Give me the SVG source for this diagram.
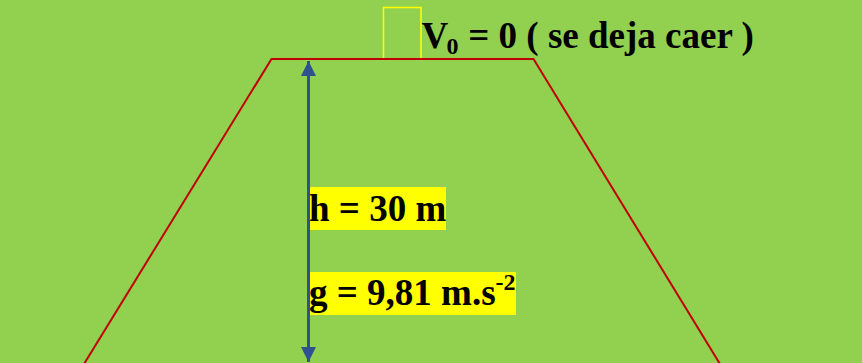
<svg xmlns="http://www.w3.org/2000/svg" width="862" height="363" viewBox="0 0 862 363">
  <style>
    .lbl { font-family: "Liberation Serif", "Times New Roman", serif; font-weight: bold; fill: #000000; font-size: 37px; }
    .small { font-size: 24px; }
    .hl { fill: #FFFF00; }
    .ramp { fill: none; stroke: #C00000; stroke-width: 2; }
    .drop { fill: none; stroke: #FFFF00; stroke-width: 1.5; }
    .dim { stroke: #2F528F; stroke-width: 3; fill: none; }
  </style>
  <defs>
    <marker id="head" markerUnits="userSpaceOnUse" markerWidth="16" markerHeight="16" viewBox="0 0 16 16" refX="15" refY="8" orient="auto-start-reverse">
      <path d="M0,0.5 L15,8 L0,15.5 Z" fill="#2F528F"/>
    </marker>
  </defs>
  <rect width="862" height="363" fill="#92D050"/>

  <g id="start-box">
    <rect class="drop" x="383.5" y="7.5" width="37.5" height="51.5"/>
  </g>

  <g id="ramp">
    <polyline class="ramp" points="84,364 271.5,59 533.5,59 720,364"/>
  </g>

  <g id="v0-label">
    <text class="lbl" x="421.5" y="47.5">V<tspan class="small" x="446.5" y="54">0</tspan><tspan x="459" y="47.5" xml:space="preserve"> = 0 ( se deja caer )</tspan></text>
  </g>

  <g id="h-label">
    <rect class="hl" x="308" y="187" width="138" height="43"/>
    <text class="lbl" x="309" y="221">h = 30 m</text>
  </g>

  <g id="g-label">
    <rect class="hl" x="308" y="272" width="208" height="43"/>
    <text class="lbl" x="309" y="305">g = 9,81 m.s<tspan class="small" y="290">-2</tspan></text>
  </g>

  <g id="connectors">
    <line class="dim" x1="308.5" y1="61" x2="308.5" y2="362" marker-start="url(#head)" marker-end="url(#head)"/>
  </g>
</svg>
